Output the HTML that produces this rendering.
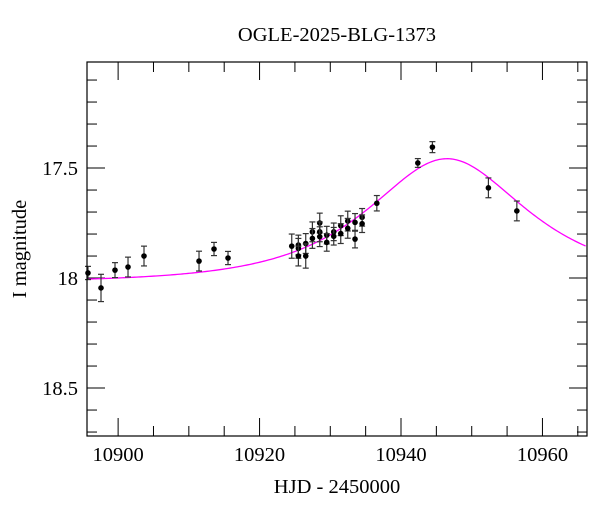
<!DOCTYPE html>
<html><head><meta charset="utf-8"><style>
body{margin:0;background:#fff;}
svg{display:block;font-family:"Liberation Serif","DejaVu Serif",serif;}
</style></head><body>
<svg id="chart" width="600" height="512">
<text x="337" y="41" font-size="20.5" text-anchor="middle">OGLE-2025-BLG-1373</text>
<text x="337" y="493" font-size="20.5" text-anchor="middle">HJD - 2450000</text>
<text x="26" y="249" font-size="20.5" text-anchor="middle" transform="rotate(-90 26 249)">I magnitude</text>
<g id="ticks"></g>
<g id="curve"></g>
<g id="points"></g>
<rect x="87" y="62" width="500" height="374" fill="none" stroke="#000" stroke-width="1.2"/>
</svg>
<script>
const times=[10895.74,10897.58,10899.56,10901.4,10903.66,10911.44,10913.56,10915.54,10924.55,10925.49,10925.49,10925.49,10926.53,10926.53,10927.47,10927.47,10928.51,10928.51,10928.51,10929.5,10929.5,10930.49,10930.49,10931.48,10931.48,10932.47,10932.47,10933.5,10933.5,10934.5,10934.5,10936.58,10942.38,10944.44,10952.36,10956.38];
const mags=[17.977,18.045,17.964,17.95,17.9,17.923,17.868,17.909,17.855,17.85,17.865,17.9,17.843,17.9,17.79,17.82,17.75,17.79,17.812,17.805,17.838,17.79,17.81,17.762,17.798,17.741,17.774,17.747,17.823,17.724,17.753,17.66,17.477,17.405,17.59,17.695];
const errs=[0.03,0.062,0.034,0.045,0.045,0.045,0.03,0.03,0.055,0.045,0.045,0.045,0.045,0.055,0.045,0.045,0.045,0.045,0.045,0.04,0.04,0.04,0.04,0.045,0.045,0.045,0.045,0.04,0.04,0.04,0.04,0.035,0.02,0.025,0.045,0.045];
const xTickLabels=[10900,10920,10940,10960];
const yTickLabels=[17.5,18,18.5];
const modelParams=[10946.5,0.70,16.5,18.02]; // t0, u0, tE, baseline
const NS="http://www.w3.org/2000/svg";
const X0=87,X1=587,Y0=62,Y1=436,TMIN=10895.6,TMAX=10966.3,MMIN=17.018,MMAX=18.718;
const xs=t=>X0+(t-TMIN)/(TMAX-TMIN)*(X1-X0);
const ys=m=>Y0+(m-MMIN)/(MMAX-MMIN)*(Y1-Y0);
function mk(tag,attrs,parent){const e=document.createElementNS(NS,tag);for(const k in attrs)e.setAttribute(k,attrs[k]);parent.appendChild(e);return e;}
const tg=document.getElementById('ticks');
for(let t=10900;t<=10965;t+=5){const major=(t%20===0);const L=major?18:10;const x=xs(t);
 const a=mk('line',{x1:x,x2:x,y1:Y1,y2:Y1-L,stroke:'#000'},tg);
 
 
 const b=mk('line',{x1:x,x2:x,y1:Y0,y2:Y0+L,stroke:'#000'},tg);
 
 }
xTickLabels.forEach(v=>{const e=mk('text',{x:xs(v),y:Y1+25,'font-size':20.5,'text-anchor':'middle'},tg);e.textContent=v;
 
 });
for(let i=1;i<=17;i++){const m=17+i*0.1;const major=Math.abs(m*2-Math.round(m*2))<1e-6;const L=major?18:10;const y=ys(m);
 const a=mk('line',{x1:X0,x2:X0+L,y1:y,y2:y,stroke:'#000'},tg);
 
 
 const b=mk('line',{x1:X1,x2:X1-L,y1:y,y2:y,stroke:'#000'},tg);
 
 }
yTickLabels.forEach(v=>{const e=mk('text',{x:X0-9,y:ys(v)+7,'font-size':20.5,'text-anchor':'end'},tg);e.textContent=String(v);
 
 });
const [t0,u0,tE,base]=modelParams;let d='';
for(let t=TMIN;t<=TMAX+0.01;t+=0.25){const tau=(t-t0)/tE;const u=Math.sqrt(u0*u0+tau*tau);const A=(u*u+2)/(u*Math.sqrt(u*u+4));const m=base-2.5*Math.log10(A);d+=(d?'L':'M')+xs(t).toFixed(2)+' '+ys(m).toFixed(2);}
const cp=mk('path',{d:d,fill:'none',stroke:'#ff00ff','stroke-width':1.3},document.getElementById('curve'));


const pg=document.getElementById('points');
times.forEach((t,i)=>{const x=xs(t),y=ys(mags[i]),ya=ys(mags[i]-errs[i]),yb=ys(mags[i]+errs[i]);
 const g=mk('g',{},pg);
 
 
 mk('line',{x1:x,x2:x,y1:ya,y2:yb,stroke:'#333','stroke-width':1.2},g);
 mk('line',{x1:x-3,x2:x+3,y1:ya,y2:ya,stroke:'#333','stroke-width':1.2},g);
 mk('line',{x1:x-3,x2:x+3,y1:yb,y2:yb,stroke:'#333','stroke-width':1.2},g);
 mk('circle',{cx:x,cy:y,r:2.8,fill:'#000'},g);});
</script>
</body></html>
